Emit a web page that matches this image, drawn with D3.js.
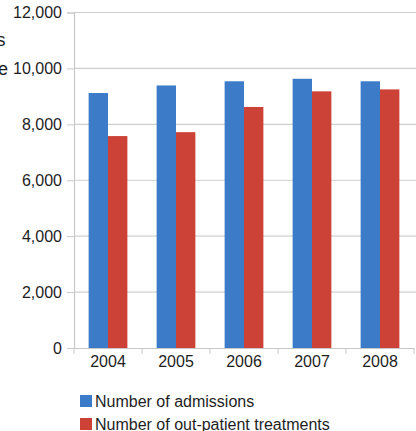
<!DOCTYPE html>
<html>
<head>
<meta charset="utf-8">
<script src="https://cdn.jsdelivr.net/npm/d3@7"></script>
<style>
  html, body { margin: 0; padding: 0; background: #fff; }
  svg { display: block; }
  text { font-family: "Liberation Sans", Arial, sans-serif; fill: #1e1e1e; }
</style>
</head>
<body>
<svg id="chart" width="416" height="431"></svg>
<script>
// Yearly hospital activity
const years = ["2004", "2005", "2006", "2007", "2008"];
const admissions = [9120, 9390, 9540, 9630, 9540];
const outpatient = [7580, 7720, 8620, 9180, 9250];
const seriesNames = ["Number of admissions", "Number of out-patient treatments"];
const seriesColors = ["#3b7bc8", "#cc4236"];
const yTicks = [0, 2000, 4000, 6000, 8000, 10000, 12000];

const svg = d3.select("#chart");
const plotLeft = 74, plotRight = 414, plotTop = 12.5, plotBottom = 348;

const x = d3.scaleBand().domain(years).range([plotLeft, plotRight]).paddingInner(0.43).paddingOuter(0.215);
const x1 = d3.scaleBand().domain([0, 1]).range([0, x.bandwidth()]);
const y = d3.scaleLinear().domain([0, 12000]).range([plotBottom, plotTop]);

// horizontal gridlines
svg.append("g").selectAll("line").data(yTicks.filter(d => d > 0)).join("line")
  .attr("x1", plotLeft).attr("x2", 416)
  .attr("y1", d => y(d)).attr("y2", d => y(d))
  .attr("stroke", "#cfcfcf").attr("stroke-width", 1.2);

// y axis
const yAxis = svg.append("g").attr("transform", `translate(${plotLeft},0)`)
  .call(d3.axisLeft(y).tickValues(yTicks).tickFormat(d3.format(",")).tickSize(7).tickPadding(5));
yAxis.select(".domain").attr("stroke", "#c8c8c8").attr("stroke-width", 1.2);
yAxis.selectAll(".tick line").attr("stroke", "#c8c8c8");
yAxis.selectAll(".tick text").style("font-size", "16px").attr("fill", "#1e1e1e");

// bars
const data = years.map((yr, i) => ({ year: yr, values: [admissions[i], outpatient[i]] }));
svg.append("g").selectAll("g").data(data).join("g")
  .attr("transform", d => `translate(${x(d.year)},0)`)
  .selectAll("rect").data(d => d.values.map((v, k) => ({ v, k }))).join("rect")
  .attr("x", d => x1(d.k)).attr("width", x1.bandwidth())
  .attr("y", d => y(d.v)).attr("height", d => plotBottom - y(d.v))
  .attr("fill", d => seriesColors[d.k]);

// x axis
const xAxis = svg.append("g").attr("transform", `translate(0,${plotBottom})`)
  .call(d3.axisBottom(x).tickSize(0).tickPadding(8));
xAxis.select(".domain").attr("stroke", "#c8c8c8").attr("stroke-width", 1.2);
xAxis.selectAll(".tick text").style("font-size", "16px").attr("fill", "#1e1e1e");
// category boundary ticks
const step = x.step();
svg.append("g").selectAll("line").data(d3.range(years.length + 1)).join("line")
  .attr("x1", i => plotLeft + i * step).attr("x2", i => plotLeft + i * step)
  .attr("y1", plotBottom).attr("y2", plotBottom + 6)
  .attr("stroke", "#c8c8c8");

// axis title (clipped at the left edge)
svg.append("text").attr("x", 5.5).attr("y", 45.5).attr("text-anchor", "end").style("font-size", "18px").text("s");
svg.append("text").attr("x", 8).attr("y", 75).attr("text-anchor", "end").style("font-size", "18px").text("e");

// legend
const legend = svg.append("g").selectAll("g").data(seriesNames).join("g")
  .attr("transform", (d, i) => `translate(80,${395 + i * 23})`);
legend.append("rect").attr("width", 12).attr("height", 12).attr("fill", (d, i) => seriesColors[i]);
legend.append("text").attr("x", 15).attr("y", 11.5).style("font-size", "16px").text(d => d);
</script>
</body>
</html>
